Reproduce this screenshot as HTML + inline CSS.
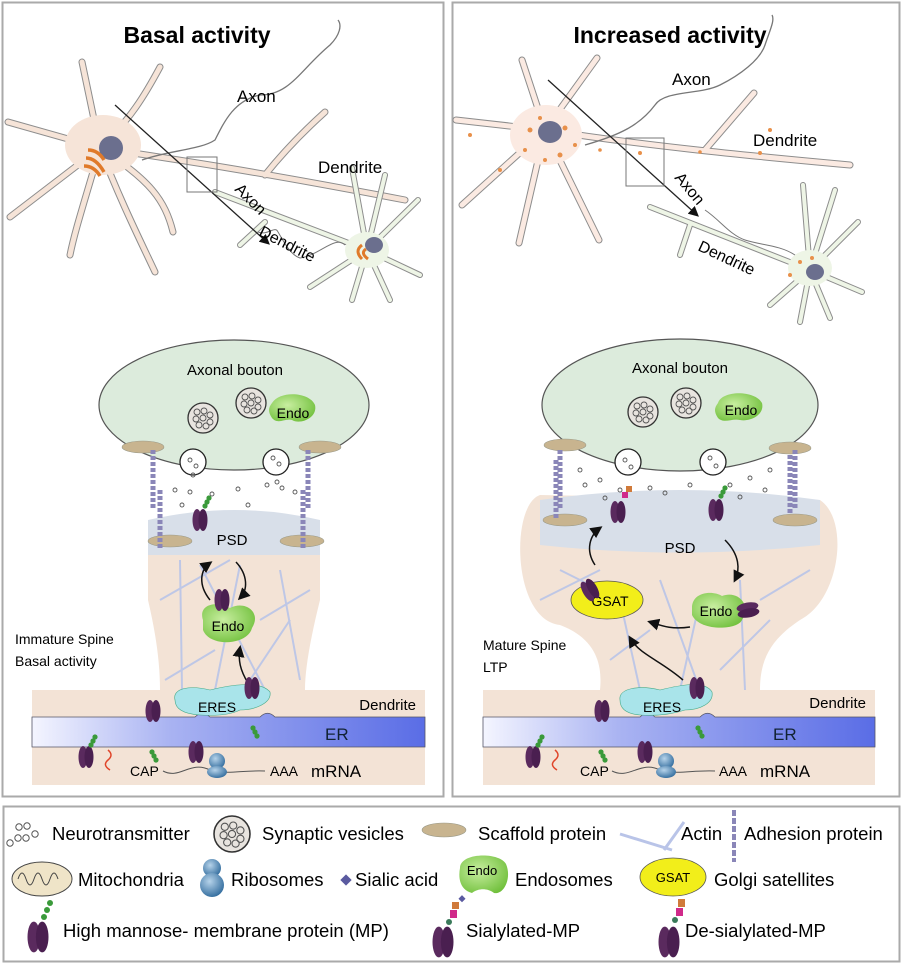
<!DOCTYPE html>
<html><head><meta charset="utf-8"><style>
html,body{margin:0;padding:0;background:#fff}
svg{display:block;font-family:"Liberation Sans",sans-serif}
.o{fill:none;stroke:#8d8d8d;stroke-width:7;stroke-linecap:round}
.i{fill:none;stroke:#f6e4d8;stroke-width:5;stroke-linecap:round}
.ig{fill:none;stroke:#eef5e6;stroke-width:4;stroke-linecap:round}
.os{fill:none;stroke:#8d8d8d;stroke-width:6;stroke-linecap:round}
</style></head><body>
<svg width="904" height="968" viewBox="0 0 904 968" xmlns="http://www.w3.org/2000/svg">
<defs>
<linearGradient id="er" x1="0" x2="1"><stop offset="0" stop-color="#f4f5ff"/><stop offset="0.35" stop-color="#a9b3f2"/><stop offset="1" stop-color="#5a6de6"/></linearGradient>
<radialGradient id="endo" cx="0.4" cy="0.4" r="0.7"><stop offset="0" stop-color="#c8eea0"/><stop offset="1" stop-color="#6fbf3a"/></radialGradient>
<radialGradient id="rib" cx="0.4" cy="0.35" r="0.7"><stop offset="0" stop-color="#b6d3ea"/><stop offset="1" stop-color="#2f6a9c"/></radialGradient>
<marker id="ah" markerWidth="8" markerHeight="8" refX="6" refY="4" orient="auto"><path d="M0,0 L8,4 L0,8 z" fill="#111"/></marker>
<g id="mp"><ellipse cx="-3" cy="0" rx="4.5" ry="11" fill="#5a2a5e"/><ellipse cx="3" cy="0" rx="4.5" ry="11" fill="#4a1f50"/></g>
<g id="hm"><circle cx="5" cy="-12" r="2.6" fill="#3a9a3a"/><circle cx="7" cy="-16" r="2.6" fill="#3a9a3a"/><circle cx="9" cy="-20" r="2.6" fill="#3a9a3a"/></g>
<g id="sv"><circle r="15" fill="#e8e4df" stroke="#333" stroke-width="1.3"/><g fill="none" stroke="#555" stroke-width="0.9"><circle cx="-6" cy="-6" r="3"/><circle cx="1" cy="-7" r="3"/><circle cx="7" cy="-3" r="3"/><circle cx="-7" cy="1" r="3"/><circle cx="0" cy="0" r="3"/><circle cx="7" cy="4" r="3"/><circle cx="-4" cy="7" r="3"/><circle cx="3" cy="8" r="3"/></g></g>
<g id="adh"><path d="M0,0 V60" stroke="#8a86b8" stroke-width="5" stroke-dasharray="4 2"/></g>
<path id="lbig" d="M100,148 C180,160 260,172 405,200 M265,175 C285,150 305,130 325,112 M100,148 L82,62 M100,148 C130,120 145,95 160,67 M100,148 L8,122 M100,148 L10,217 M100,148 C85,200 75,230 70,255 M100,148 C120,200 140,240 155,272 M100,148 C150,180 165,200 173,232"/>
<path id="lsm" d="M367,250 L215,192 M265,222 L240,245 M367,250 L352,168 M367,250 L385,175 M367,250 L418,200 M367,250 L420,275 M367,250 L390,300 M367,250 L352,300 M367,250 L310,287"/>
<path id="rbig" d="M545,130 C640,145 740,155 850,165 M705,150 L754,93 M545,130 L522,60 M545,130 L597,58 M545,130 L456,120 M545,130 L462,205 M545,130 L519,243 M545,130 L599,240"/>
<path id="rsm" d="M810,270 L650,207 M690,225 L680,255 M810,270 L803,185 M810,270 L835,190 M810,270 L858,222 M810,270 L862,292 M810,270 L830,318 M810,270 L800,322 M810,270 L770,305"/>
</defs>

<rect x="2.5" y="2.5" width="441" height="794" fill="#fff" stroke="#aaa" stroke-width="2"/>
<rect x="452.5" y="2.5" width="447" height="794" fill="#fff" stroke="#aaa" stroke-width="2"/>
<rect x="3.5" y="806.5" width="896" height="155" fill="#fff" stroke="#aaa" stroke-width="2"/>

<text x="197" y="43" font-size="23" font-weight="bold" text-anchor="middle">Basal activity</text>
<text x="670" y="43" font-size="23" font-weight="bold" text-anchor="middle">Increased activity</text>

<use href="#lbig" class="o"/><use href="#lbig" class="i"/>
<ellipse cx="103" cy="145" rx="38" ry="30" fill="#f6e4d8"/>
<ellipse cx="111" cy="148" rx="12" ry="12" fill="#6b6f8e"/>
<path d="M86,158 q10,0 18,14 M84,166 q10,0 16,10 M88,150 q10,0 16,10" stroke="#e07a2a" stroke-width="3.5" fill="none"/>
<path d="M142,160 C170,150 200,150 215,140 C225,120 235,100 260,95 C290,95 300,70 330,45 C340,35 342,25 338,20" stroke="#777" stroke-width="1.3" fill="none"/>
<use href="#lsm" class="os"/><use href="#lsm" class="ig"/>
<ellipse cx="367" cy="250" rx="22" ry="18" fill="#eef5e6"/>
<ellipse cx="374" cy="245" rx="9" ry="8" fill="#6b6f8e"/>
<path d="M362,245 q-8,6 0,14 M366,249 q-6,4 2,10" stroke="#e07a2a" stroke-width="3" fill="none"/>
<path d="M258,232 C268,236 275,225 278,232 C283,240 290,255 300,258 C320,255 335,235 345,245" stroke="#777" fill="none"/>
<line x1="115" y1="105" x2="268" y2="243" stroke="#222" stroke-width="1.3" marker-end="url(#ah)"/>
<rect x="187" y="157" width="30" height="35" fill="none" stroke="#777"/>
<text x="237" y="102" font-size="17">Axon</text>
<text x="318" y="173" font-size="17">Dendrite</text>
<text x="234" y="190" font-size="16" transform="rotate(45 234 190)">Axon</text>
<text x="258" y="235" font-size="16" transform="rotate(27 258 235)">Dendrite</text>

<use href="#rbig" class="o"/><use href="#rbig" class="i" style="stroke:#fbeae2"/>
<ellipse cx="546" cy="135" rx="36" ry="30" fill="#fbeae2"/>
<ellipse cx="550" cy="132" rx="12" ry="11" fill="#6b6f8e"/>
<g fill="#e8904a"><circle cx="530" cy="130" r="2.5"/><circle cx="545" cy="160" r="2"/><circle cx="565" cy="128" r="2.5"/><circle cx="525" cy="150" r="2"/><circle cx="560" cy="155" r="2.5"/><circle cx="575" cy="145" r="2"/><circle cx="540" cy="118" r="2"/><circle cx="600" cy="150" r="1.8"/><circle cx="640" cy="153" r="2"/><circle cx="700" cy="152" r="1.8"/><circle cx="760" cy="153" r="2"/><circle cx="500" cy="170" r="2"/><circle cx="470" cy="135" r="2"/><circle cx="770" cy="130" r="2"/></g>
<path d="M585,145 C620,135 640,125 655,105 C665,90 700,95 720,85 C740,75 760,60 765,45 C770,30 775,20 772,15" stroke="#777" stroke-width="1.3" fill="none"/>
<use href="#rsm" class="os"/><use href="#rsm" class="ig"/>
<ellipse cx="810" cy="268" rx="22" ry="18" fill="#eef5e6"/>
<ellipse cx="815" cy="272" rx="9" ry="8" fill="#6b6f8e"/>
<g fill="#e8904a"><circle cx="800" cy="262" r="2"/><circle cx="812" cy="258" r="2"/><circle cx="790" cy="275" r="2"/></g>
<path d="M705,210 C720,220 730,235 745,240 C760,245 780,245 795,255" stroke="#777" fill="none"/>
<line x1="548" y1="80" x2="697" y2="215" stroke="#222" stroke-width="1.3" marker-end="url(#ah)"/>
<rect x="626" y="138" width="38" height="48" fill="none" stroke="#777"/>
<text x="672" y="85" font-size="17">Axon</text>
<text x="753" y="146" font-size="17">Dendrite</text>
<text x="674" y="178" font-size="16" transform="rotate(50 674 178)">Axon</text>
<text x="697" y="250" font-size="16" transform="rotate(25 697 250)">Dendrite</text>

<!-- LEFT synapse -->
<rect x="32" y="690" width="393" height="95" fill="#f3e3d6"/>
<path d="M148,530 H320 V600 C310,640 305,670 305,690 H160 C160,660 155,630 148,600 Z" fill="#f3e3d6"/>
<path d="M32,717 H195 C200,712 205,712 210,717 H260 C265,712 270,712 275,717 H425 V747 H32 Z" fill="url(#er)" stroke="#556" stroke-width="0.8"/>
<g stroke="#b9c4e8" stroke-width="2" opacity="0.9">
<line x1="180" y1="560" x2="182" y2="690"/><line x1="200" y1="565" x2="265" y2="690"/><line x1="240" y1="565" x2="215" y2="690"/><line x1="280" y1="570" x2="300" y2="680"/><line x1="160" y1="600" x2="230" y2="560"/><line x1="260" y1="620" x2="310" y2="590"/><line x1="165" y1="680" x2="215" y2="650"/><line x1="250" y1="680" x2="290" y2="620"/>
</g>
<path d="M148,520 Q235,500 320,520 V555 H148 Z" fill="#d8dfe9"/>
<text x="232" y="545" font-size="15" text-anchor="middle">PSD</text>
<ellipse cx="170" cy="541" rx="22" ry="6" fill="#c8b48f" stroke="#998" stroke-width="0.6"/>
<ellipse cx="302" cy="541" rx="22" ry="6" fill="#c8b48f" stroke="#998" stroke-width="0.6"/>
<ellipse cx="234" cy="405" rx="135" ry="65" fill="#dcebdc" stroke="#555" stroke-width="1.2"/>
<text x="235" y="375" font-size="15" text-anchor="middle">Axonal bouton</text>
<use href="#sv" transform="translate(203,418)"/><use href="#sv" transform="translate(251,403)"/>
<path d="M272,403 C280,390 310,392 315,405 C318,418 300,425 292,420 C285,418 278,425 272,418 C268,412 268,408 272,403Z" fill="url(#endo)"/>
<text x="293" y="418" font-size="14" text-anchor="middle">Endo</text>
<ellipse cx="143" cy="447" rx="21" ry="6" fill="#c8b48f" stroke="#998" stroke-width="0.6"/>
<ellipse cx="320" cy="447" rx="21" ry="6" fill="#c8b48f" stroke="#998" stroke-width="0.6"/>
<use href="#adh" transform="translate(153,450)"/><use href="#adh" transform="translate(160,490)"/><use href="#adh" transform="translate(308,450)"/><use href="#adh" transform="translate(303,490)"/>
<circle cx="193" cy="462" r="13" fill="#fff" stroke="#222" stroke-width="1.3"/>
<circle cx="276" cy="462" r="13" fill="#fff" stroke="#222" stroke-width="1.3"/>
<g fill="none" stroke="#555" stroke-width="0.9"><circle cx="190" cy="460" r="2"/><circle cx="196" cy="466" r="2"/><circle cx="193" cy="475" r="2"/><circle cx="273" cy="458" r="2"/><circle cx="279" cy="464" r="2"/><circle cx="277" cy="482" r="2"/><circle cx="175" cy="490" r="2"/><circle cx="190" cy="492" r="2"/><circle cx="212" cy="494" r="2"/><circle cx="238" cy="489" r="2"/><circle cx="267" cy="485" r="2"/><circle cx="282" cy="488" r="2"/><circle cx="295" cy="492" r="2"/><circle cx="182" cy="505" r="2"/><circle cx="248" cy="505" r="2"/></g>
<use href="#mp" transform="translate(200,520)"/><use href="#hm" transform="translate(200,518)"/>
<path d="M210,600 C198,585 200,570 210,563" stroke="#111" stroke-width="1.5" fill="none" marker-end="url(#ah)"/>
<path d="M236,562 C248,575 248,590 240,598" stroke="#111" stroke-width="1.5" fill="none" marker-end="url(#ah)"/>
<path d="M203,620 C198,605 215,600 230,608 C245,600 262,612 252,628 C248,645 210,648 203,630Z" fill="url(#endo)"/>
<text x="228" y="631" font-size="14" text-anchor="middle">Endo</text>
<use href="#mp" transform="translate(222,600)"/>
<path d="M248,683 C240,670 238,660 240,648" stroke="#111" stroke-width="1.5" fill="none" marker-end="url(#ah)"/>
<path d="M175,700 C172,688 190,685 210,690 C230,685 260,680 270,692 C272,703 255,710 240,710 C230,715 215,716 200,715 C185,714 175,710 175,700Z" fill="#a9e4ea" stroke="#4a8" stroke-width="0.6"/>
<text x="217" y="712" font-size="14" text-anchor="middle">ERES</text>
<use href="#mp" transform="translate(252,688)"/><use href="#hm" transform="translate(248,716) scale(1,-1)"/>
<use href="#mp" transform="translate(153,711)"/><use href="#hm" transform="translate(147,740) scale(1,-1)"/>
<text x="416" y="710" font-size="15" text-anchor="end">Dendrite</text>
<text x="325" y="740" font-size="17" fill="#123">ER</text>
<use href="#mp" transform="translate(86,757)"/><use href="#hm" transform="translate(86,757)"/>
<path d="M108,750 q6,5 0,10 q-6,5 2,10" stroke="#e0452a" stroke-width="1.5" fill="none"/>
<use href="#mp" transform="translate(196,752)"/>
<path d="M163,771 C180,780 190,760 210,770 C230,775 240,770 265,771" stroke="#555" fill="none"/>
<circle cx="217" cy="761" r="8" fill="url(#rib)"/><ellipse cx="217" cy="772" rx="10" ry="6" fill="url(#rib)"/>
<text x="130" y="776" font-size="14">CAP</text>
<text x="270" y="776" font-size="14">AAA</text>
<text x="311" y="777" font-size="17">mRNA</text>
<text x="15" y="644" font-size="14">Immature Spine</text>
<text x="15" y="666" font-size="14">Basal activity</text>

<!-- RIGHT synapse -->
<rect x="483" y="690" width="392" height="95" fill="#f3e3d6"/>
<path d="M540,495 C510,505 512,620 560,625 C600,640 602,670 600,690 H760 C760,660 770,640 800,620 C840,600 850,520 820,500 Z" fill="#f3e3d6"/>
<path d="M483,717 H640 C645,712 650,712 655,717 H700 C705,712 710,712 715,717 H875 V747 H483 Z" fill="url(#er)" stroke="#556" stroke-width="0.8"/>
<g stroke="#b9c4e8" stroke-width="2" opacity="0.9">
<line x1="620" y1="600" x2="640" y2="690"/><line x1="660" y1="580" x2="700" y2="690"/><line x1="700" y1="600" x2="680" y2="690"/><line x1="740" y1="580" x2="745" y2="690"/><line x1="540" y1="600" x2="600" y2="570"/><line x1="760" y1="600" x2="810" y2="570"/><line x1="610" y1="660" x2="650" y2="630"/><line x1="720" y1="670" x2="770" y2="620"/><line x1="560" y1="570" x2="620" y2="600"/>
</g>
<path d="M540,500 Q680,480 820,500 V545 Q680,560 540,545 Z" fill="#d8dfe9"/>
<text x="680" y="553" font-size="15" text-anchor="middle">PSD</text>
<ellipse cx="565" cy="520" rx="22" ry="6" fill="#c8b48f" stroke="#998" stroke-width="0.6"/>
<ellipse cx="795" cy="520" rx="22" ry="6" fill="#c8b48f" stroke="#998" stroke-width="0.6"/>
<ellipse cx="680" cy="405" rx="138" ry="66" fill="#dcebdc" stroke="#555" stroke-width="1.2"/>
<text x="680" y="373" font-size="15" text-anchor="middle">Axonal bouton</text>
<use href="#sv" transform="translate(643,412)"/><use href="#sv" transform="translate(686,403)"/>
<path d="M718,403 C722,390 755,390 762,403 C765,415 750,422 740,420 C732,418 724,424 718,418 C714,412 714,408 718,403Z" fill="url(#endo)"/>
<text x="741" y="415" font-size="14" text-anchor="middle">Endo</text>
<ellipse cx="565" cy="445" rx="21" ry="6" fill="#c8b48f" stroke="#998" stroke-width="0.6"/>
<ellipse cx="790" cy="448" rx="21" ry="6" fill="#c8b48f" stroke="#998" stroke-width="0.6"/>
<use href="#adh" transform="translate(560,450)"/><use href="#adh" transform="translate(556,460)"/><use href="#adh" transform="translate(790,455)"/><use href="#adh" transform="translate(795,450)"/>
<circle cx="628" cy="462" r="13" fill="#fff" stroke="#222" stroke-width="1.3"/>
<circle cx="713" cy="462" r="13" fill="#fff" stroke="#222" stroke-width="1.3"/>
<g fill="none" stroke="#555" stroke-width="0.9"><circle cx="625" cy="460" r="2"/><circle cx="631" cy="467" r="2"/><circle cx="710" cy="458" r="2"/><circle cx="716" cy="466" r="2"/><circle cx="585" cy="485" r="2"/><circle cx="600" cy="480" r="2"/><circle cx="620" cy="490" r="2"/><circle cx="650" cy="488" r="2"/><circle cx="665" cy="493" r="2"/><circle cx="690" cy="485" r="2"/><circle cx="730" cy="485" r="2"/><circle cx="750" cy="478" r="2"/><circle cx="765" cy="490" r="2"/><circle cx="605" cy="498" r="2"/><circle cx="740" cy="497" r="2"/><circle cx="580" cy="470" r="2"/><circle cx="770" cy="470" r="2"/></g>
<use href="#mp" transform="translate(618,512)"/><rect x="622" y="492" width="6" height="6" fill="#d02a8a"/><rect x="626" y="486" width="6" height="6" fill="#d07a3a"/>
<use href="#mp" transform="translate(716,510)"/><use href="#hm" transform="translate(716,508)"/>
<path d="M595,565 C585,550 590,535 600,528" stroke="#111" stroke-width="1.5" fill="none" marker-end="url(#ah)"/>
<path d="M725,540 C740,555 740,570 735,580" stroke="#111" stroke-width="1.5" fill="none" marker-end="url(#ah)"/>
<ellipse cx="607" cy="600" rx="36" ry="19" fill="#f2ee1a" stroke="#555" stroke-width="0.8"/>
<text x="610" y="606" font-size="14" text-anchor="middle">GSAT</text>
<use href="#mp" transform="translate(590,590) rotate(-30)"/>
<path d="M692,608 C692,592 712,590 722,596 C738,590 752,605 742,620 C738,630 700,632 692,615Z" fill="url(#endo)"/>
<text x="716" y="616" font-size="14" text-anchor="middle">Endo</text>
<use href="#mp" transform="translate(748,610) rotate(80)"/>
<path d="M690,627 C670,630 660,625 650,622" stroke="#111" stroke-width="1.5" fill="none" marker-end="url(#ah)"/>
<path d="M683,680 C660,660 640,655 630,638" stroke="#111" stroke-width="1.5" fill="none" marker-end="url(#ah)"/>
<path d="M620,700 C618,688 640,685 660,690 C680,685 705,680 712,692 C714,703 700,710 685,710 C670,715 655,716 640,715 C628,714 620,710 620,700Z" fill="#a9e4ea" stroke="#4a8" stroke-width="0.6"/>
<text x="662" y="712" font-size="14" text-anchor="middle">ERES</text>
<use href="#mp" transform="translate(697,688)"/><use href="#hm" transform="translate(693,716) scale(1,-1)"/>
<use href="#mp" transform="translate(602,711)"/><use href="#hm" transform="translate(596,740) scale(1,-1)"/>
<text x="866" y="708" font-size="15" text-anchor="end">Dendrite</text>
<text x="773" y="740" font-size="17" fill="#123">ER</text>
<use href="#mp" transform="translate(533,757)"/><use href="#hm" transform="translate(533,757)"/>
<path d="M555,750 q6,5 0,10 q-6,5 2,10" stroke="#e0452a" stroke-width="1.5" fill="none"/>
<use href="#mp" transform="translate(645,752)"/>
<path d="M612,771 C630,780 640,760 660,770 C680,775 690,770 715,771" stroke="#555" fill="none"/>
<circle cx="666" cy="761" r="8" fill="url(#rib)"/><ellipse cx="666" cy="772" rx="10" ry="6" fill="url(#rib)"/>
<text x="580" y="776" font-size="14">CAP</text>
<text x="719" y="776" font-size="14">AAA</text>
<text x="760" y="777" font-size="17">mRNA</text>
<text x="483" y="650" font-size="14">Mature Spine</text>
<text x="483" y="672" font-size="14">LTP</text>

<!-- legend -->
<g font-size="18.5">
<g fill="none" stroke="#555" stroke-width="1"><circle cx="18" cy="838" r="3.2"/><circle cx="27" cy="826" r="3.2"/><circle cx="26" cy="838" r="3.2"/><circle cx="10" cy="843" r="3.2"/><circle cx="19" cy="827" r="3.2"/><circle cx="35" cy="834" r="3.2"/></g>
<text x="52" y="840">Neurotransmitter</text>
<use href="#sv" transform="translate(232,834) scale(1.2)"/>
<text x="262" y="840">Synaptic vesicles</text>
<ellipse cx="444" cy="830" rx="22" ry="7" fill="#c8b48f" stroke="#998" stroke-width="0.6"/>
<text x="478" y="840">Scaffold protein</text>
<path d="M620,834 L672,850 M664,850 L684,822" stroke="#b9c4e8" stroke-width="3" fill="none"/>
<text x="681" y="840">Actin</text>
<path d="M734,810 V862" stroke="#8a86b8" stroke-width="4" stroke-dasharray="6 2"/>
<text x="744" y="840">Adhesion protein</text>
<ellipse cx="42" cy="879" rx="30" ry="17" fill="#efe4c8" stroke="#444"/>
<path d="M18,879 q4,-12 8,0 q4,12 8,0 q4,-12 8,0 q4,12 8,0 q4,-12 8,0" stroke="#444" fill="none"/>
<text x="78" y="886">Mitochondria</text>
<circle cx="212" cy="868" r="9" fill="url(#rib)"/><circle cx="212" cy="885" r="12" fill="url(#rib)"/>
<text x="231" y="886">Ribosomes</text>
<rect x="342" y="876" width="8" height="8" fill="#5a5aa0" transform="rotate(45 346 880)"/>
<text x="355" y="886">Sialic acid</text>
<path d="M460,868 C460,852 500,852 506,864 C512,878 504,895 494,893 C488,888 478,888 472,893 C460,890 458,878 460,868Z" fill="url(#endo)"/>
<text x="482" y="875" font-size="13" text-anchor="middle">Endo</text>
<text x="515" y="886">Endosomes</text>
<ellipse cx="673" cy="877" rx="33" ry="19" fill="#f2ee1a" stroke="#555" stroke-width="0.8"/>
<text x="673" y="882" font-size="13" text-anchor="middle">GSAT</text>
<text x="714" y="886">Golgi satellites</text>
<use href="#mp" transform="translate(38,937) scale(1.4)"/><circle cx="50" cy="903" r="3" fill="#3a9a3a"/><circle cx="47" cy="910" r="3" fill="#3a9a3a"/><circle cx="44" cy="917" r="3" fill="#3a9a3a"/>
<text x="63" y="937">High mannose- membrane protein (MP)</text>
<use href="#mp" transform="translate(443,942) scale(1.4)"/><circle cx="449" cy="922" r="3" fill="#3a7a5a"/><rect x="450" y="910" width="7" height="8" fill="#d02a8a"/><rect x="452" y="902" width="7" height="7" fill="#d07a3a"/><rect x="460" y="896" width="5" height="5" fill="#5a5aa0" transform="rotate(45 462 898)"/>
<text x="466" y="937">Sialylated-MP</text>
<use href="#mp" transform="translate(669,942) scale(1.4)"/><circle cx="675" cy="920" r="3" fill="#3a7a5a"/><rect x="676" y="908" width="7" height="8" fill="#d02a8a"/><rect x="678" y="899" width="7" height="8" fill="#d07a3a"/>
<text x="685" y="937">De-sialylated-MP</text>
</g>
</svg>
</body></html>
